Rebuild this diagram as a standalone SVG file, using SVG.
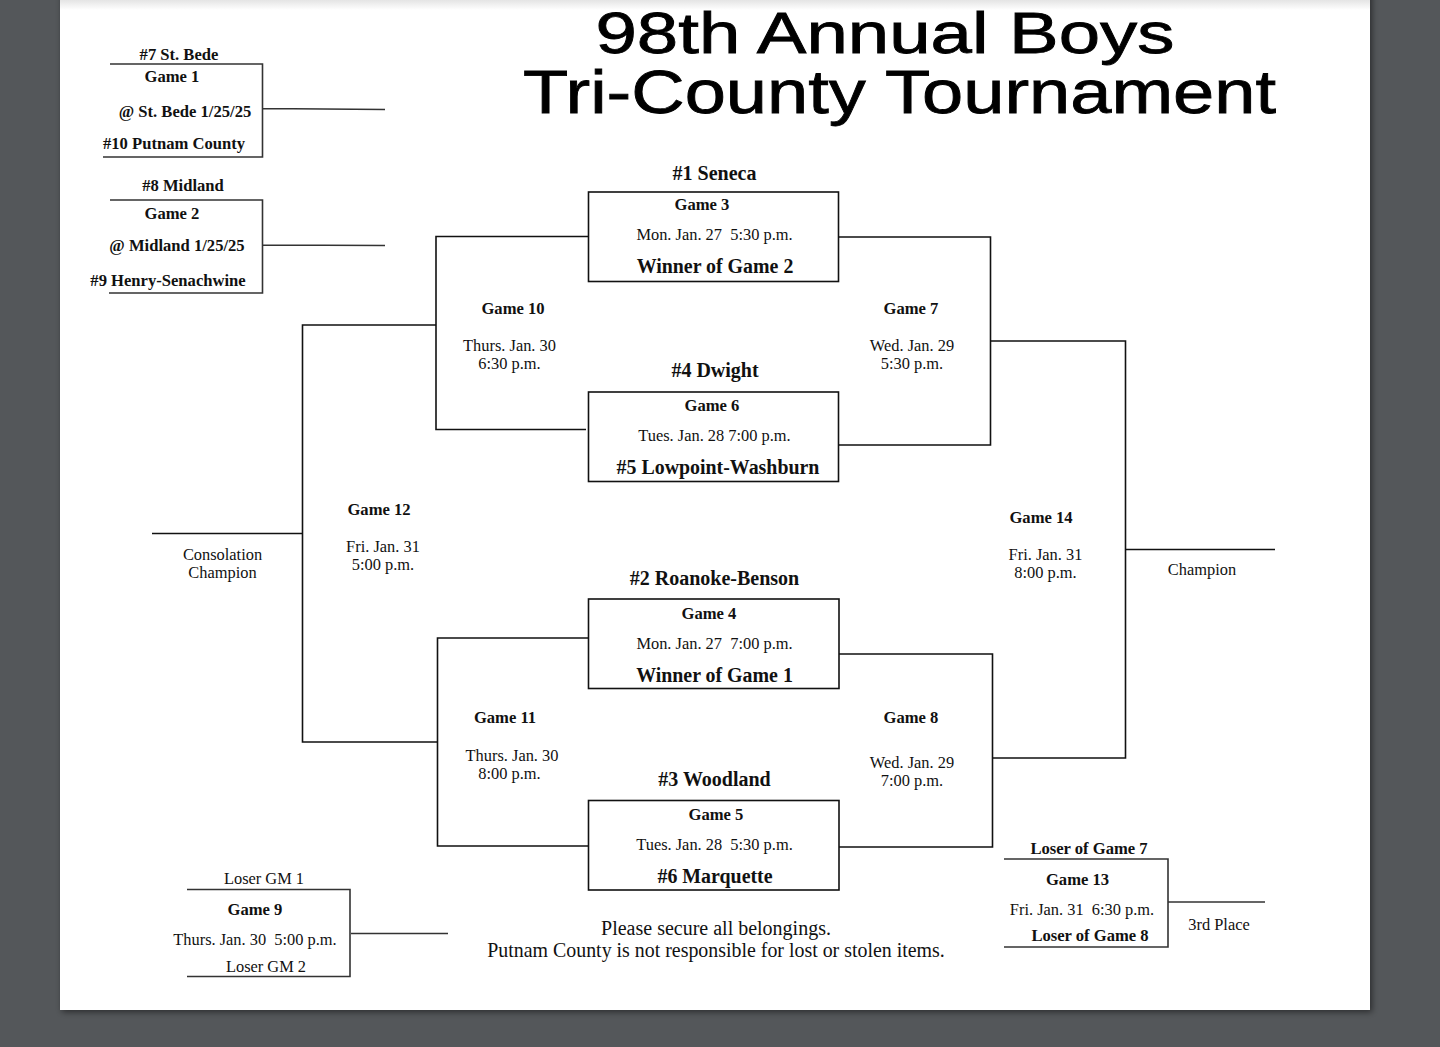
<svg xmlns="http://www.w3.org/2000/svg" width="1440" height="1047" viewBox="0 0 1440 1047">
<style>
text{font-family:"Liberation Serif","Times New Roman",serif;fill:#111;text-anchor:middle;font-size:16.4px;white-space:pre}
.b{font-weight:bold;font-size:16.6px}
.l{font-size:20px;font-weight:bold}
.t{font-family:"Liberation Sans",Arial,sans-serif;font-size:58px;fill:#000;stroke:#000;stroke-width:.8}
.t2{font-size:62px}
.n{font-size:20px}
.n.b{font-size:19.9px}
.c{fill:none;stroke:#111;stroke-width:1.6}
.g{fill:none;stroke:#333;stroke-width:1.6}
.box{fill:#fff;stroke:#111;stroke-width:1.6}
</style>
<defs>
<linearGradient id="top" x1="0" y1="0" x2="0" y2="1"><stop offset="0" stop-color="#e4e4e4"/><stop offset="1" stop-color="#fff"/></linearGradient>
<filter id="sh" x="-5%" y="-5%" width="110%" height="110%"><feDropShadow dx="2" dy="2" stdDeviation="3" flood-color="#000" flood-opacity=".5"/></filter>
</defs>
<rect width="1440" height="1047" fill="#54575a"/>
<rect x="60" y="-10" width="1310" height="1020" fill="#fff" filter="url(#sh)"/>
<rect x="60" y="0" width="1310" height="10" fill="url(#top)"/>
<text class="t"><tspan x="885" y="53" textLength="579" lengthAdjust="spacingAndGlyphs">98th Annual Boys</tspan><tspan class="t2" x="899.500" y="113" textLength="753" lengthAdjust="spacingAndGlyphs">Tri-County Tournament</tspan></text>
<g id="connectors">
<path class="g" d="M110 64H262.500V157H103M262.500 108.500L385 109.500"/>
<path class="g" d="M110 200H262.500V293H109M262.500 245L385 245.500"/>
<path class="g" d="M187 889.500H350V976.500H187M351 933.500H448"/>
<path class="g" d="M1004 859H1168V947H1004M1168 902H1265"/>
<path class="c" d="M588 236.500H436V429.500H586"/>
<path class="c" d="M839 237H990.500V445H839"/>
<path class="c" d="M436 325H302.500V742H437"/>
<path class="c" d="M152 533.500H302"/>
<path class="c" d="M589 638H437.500V846H589"/>
<path class="c" d="M839 654H992.500V847H839"/>
<path class="c" d="M990 341H1125.500V758H992"/>
<path class="c" d="M1125 549.500H1275"/>
</g>
<g id="game1"><text class="b" x="179" y="60">#7 St. Bede</text><text class="b" x="172" y="82">Game 1</text><text class="b" x="185" y="117">@ St. Bede 1/25/25</text><text class="b" x="174" y="149">#10 Putnam County</text></g>
<g id="game2"><text class="b" x="183" y="191">#8 Midland</text><text class="b" x="172" y="219">Game 2</text><text class="b" x="177" y="251">@ Midland 1/25/25</text><text class="b" x="168" y="286">#9 Henry-Senachwine</text></g>
<g id="game3"><rect class="box" x="588.500" y="192" width="250" height="89.500"/><text class="l" x="714.500" y="179.500">#1 Seneca</text><text class="b" x="702" y="210">Game 3</text><text x="714.500" y="240">Mon. Jan. 27  5:30 p.m.</text><text class="n b" x="715" y="273">Winner of Game 2</text></g>
<g id="game6"><rect class="box" x="588.500" y="392" width="250" height="89.500"/><text class="l" x="715" y="376.500">#4 Dwight</text><text class="b" x="712" y="411">Game 6</text><text x="714.500" y="441">Tues. Jan. 28 7:00 p.m.</text><text class="n b" x="718" y="474">#5 Lowpoint-Washburn</text></g>
<g id="game4"><rect class="box" x="588.500" y="599" width="250.500" height="89.500"/><text class="l" x="714.500" y="584.500">#2 Roanoke-Benson</text><text class="b" x="709" y="619">Game 4</text><text x="714.500" y="649">Mon. Jan. 27  7:00 p.m.</text><text class="n b" x="714.500" y="682">Winner of Game 1</text></g>
<g id="game5"><rect class="box" x="588.500" y="800.500" width="250.500" height="89.500"/><text class="l" x="714.500" y="785.500">#3 Woodland</text><text class="b" x="716" y="820">Game 5</text><text x="714.500" y="850">Tues. Jan. 28  5:30 p.m.</text><text class="n b" x="715" y="883">#6 Marquette</text></g>
<g id="game10"><text class="b" x="513" y="314">Game 10</text><text x="509.500" y="351">Thurs. Jan. 30</text><text x="509.500" y="369">6:30 p.m.</text></g>
<g id="game7"><text class="b" x="911" y="314">Game 7</text><text x="912" y="351">Wed. Jan. 29</text><text x="912" y="369">5:30 p.m.</text></g>
<g id="game12"><text class="b" x="379" y="515">Game 12</text><text x="383" y="552">Fri. Jan. 31</text><text x="383" y="570">5:00 p.m.</text></g>
<g id="game14"><text class="b" x="1041" y="523">Game 14</text><text x="1045.500" y="560">Fri. Jan. 31</text><text x="1045.500" y="578">8:00 p.m.</text></g>
<g id="game11"><text class="b" x="505" y="723">Game 11</text><text x="512" y="761">Thurs. Jan. 30</text><text x="509.500" y="779">8:00 p.m.</text></g>
<g id="game8"><text class="b" x="911" y="723">Game 8</text><text x="912" y="768">Wed. Jan. 29</text><text x="912" y="786">7:00 p.m.</text></g>
<g id="consolation"><text x="222.500" y="560">Consolation</text><text x="222.500" y="578">Champion</text></g>
<g id="champion"><text x="1202" y="575">Champion</text></g>
<g id="game9"><text x="264" y="884">Loser GM 1</text><text class="b" x="255" y="915">Game 9</text><text x="255" y="945">Thurs. Jan. 30  5:00 p.m.</text><text x="266" y="972">Loser GM 2</text></g>
<g id="game13"><text class="b" x="1089" y="854">Loser of Game 7</text><text class="b" x="1077.500" y="885">Game 13</text><text x="1082" y="915">Fri. Jan. 31  6:30 p.m.</text><text class="b" x="1090" y="941">Loser of Game 8</text></g>
<g id="third"><text x="1219" y="930">3rd Place</text></g>
<g id="notice"><text class="n" x="716" y="935" font-size="19.900">Please secure all belongings.</text><text x="716" y="957" style="font-size:19.900px">Putnam County is not responsible for lost or stolen items.</text></g>
</svg>
